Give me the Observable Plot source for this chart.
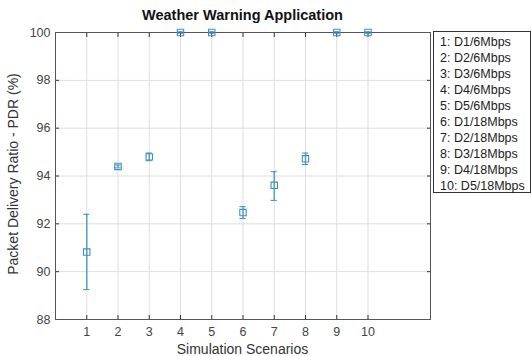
<!DOCTYPE html>
<html>
<head>
<meta charset="utf-8">
<script src="https://cdn.jsdelivr.net/npm/d3@7"></script>
<script src="https://cdn.jsdelivr.net/npm/@observablehq/plot@0.6"></script>
<style>
  html, body { margin: 0; padding: 0; background: #fff; }
  #wrap { position: relative; width: 532px; height: 356px; font-family: "Liberation Sans", Arial, sans-serif; }
  #wrap svg { position: absolute; left: 0; top: 0; }
  .title { position: absolute; left: 55px; width: 375px; top: 7px; text-align: center; font-weight: bold; font-size: 14.5px; color: #111; }
  .xlabel { position: absolute; left: 55px; width: 375px; top: 341px; text-align: center; font-size: 14px; color: #333; }
  .ylabel { position: absolute; left: 13px; top: 174px; transform: translate(-50%, -50%) rotate(-90deg); white-space: nowrap; font-size: 14px; color: #333; }
  .legend { position: absolute; left: 433px; top: 31px; width: 98px; height: 162px; border: 1px solid #333; background: #fff; font-size: 12.5px; color: #222; padding: 2px 0 0 6px; box-sizing: border-box; }
  .legend div { height: 16px; line-height: 16px; white-space: nowrap; }
</style>
</head>
<body>
<div id="wrap"></div>
<script>
const scenarios = [1, 2, 3, 4, 5, 6, 7, 8, 9, 10];
const pdrMean = [90.82, 94.40, 94.80, 100, 100, 92.47, 93.61, 94.72, 100, 100];
const pdrLow  = [89.25, 94.34, 94.64, 99.97, 99.97, 92.22, 92.98, 94.48, 99.97, 99.97];
const pdrHigh = [92.40, 94.46, 94.96, 100.03, 100.03, 92.72, 94.18, 94.96, 100.03, 100.03];
const legendLabels = ["1: D1/6Mbps", "2: D2/6Mbps", "3: D3/6Mbps", "4: D4/6Mbps", "5: D5/6Mbps",
  "6: D1/18Mbps", "7: D2/18Mbps", "8: D3/18Mbps", "9: D4/18Mbps", "10: D5/18Mbps"];
const xTicks = [1, 2, 3, 4, 5, 6, 7, 8, 9, 10];
const yTicks = [88, 90, 92, 94, 96, 98, 100];

const data = scenarios.map((s, i) => ({x: s, y: pdrMean[i], lo: pdrLow[i], hi: pdrHigh[i]}));
const blue = "#3f90c0";
const capHalf = 0.1;

const chart = Plot.plot({
  width: 532,
  height: 356,
  marginLeft: 55,
  marginRight: 102,
  marginTop: 32,
  marginBottom: 37,
  style: {fontFamily: "Liberation Sans, Arial, sans-serif", background: "transparent"},
  x: {domain: [0, 12], label: null},
  y: {domain: [88, 100], label: null},
  marks: [
    Plot.gridX(xTicks, {stroke: "#dedede", strokeOpacity: 1}),
    Plot.gridY(yTicks, {stroke: "#dedede", strokeOpacity: 1}),
    Plot.axisX(xTicks, {anchor: "bottom", tickSize: 0, tickPadding: 8, fontSize: 12.5, fill: "#444", label: null}),
    Plot.axisX(xTicks, {anchor: "bottom", tickSize: -4, tickFormat: () => "", stroke: "#333", label: null}),
    Plot.axisX(xTicks, {anchor: "top", tickSize: -4, tickFormat: () => "", stroke: "#333", label: null}),
    Plot.axisY(yTicks, {anchor: "left", tickSize: 0, tickPadding: 5, fontSize: 12.5, fill: "#444", label: null}),
    Plot.axisY(yTicks, {anchor: "left", tickSize: -4, tickFormat: () => "", stroke: "#333", label: null}),
    Plot.axisY(yTicks, {anchor: "right", tickSize: -4, tickFormat: () => "", stroke: "#333", label: null}),
    Plot.frame({stroke: "#555", strokeWidth: 1}),
    Plot.ruleX(data, {x: "x", y1: "lo", y2: "hi", stroke: blue, strokeWidth: 1.6, strokeOpacity: 0.8}),
    Plot.ruleY(data, {y: "lo", x1: d => d.x - capHalf, x2: d => d.x + capHalf, stroke: blue, strokeWidth: 1}),
    Plot.ruleY(data, {y: "hi", x1: d => d.x - capHalf, x2: d => d.x + capHalf, stroke: blue, strokeWidth: 1}),
    Plot.dot(data, {x: "x", y: "y", symbol: "square", r: 3.6, stroke: blue, fill: "none", strokeWidth: 1.1})
  ]
});

const wrap = document.getElementById("wrap");
wrap.appendChild(chart);

const title = document.createElement("div");
title.className = "title";
title.textContent = "Weather Warning Application";
wrap.appendChild(title);

const xl = document.createElement("div");
xl.className = "xlabel";
xl.textContent = "Simulation Scenarios";
wrap.appendChild(xl);

const yl = document.createElement("div");
yl.className = "ylabel";
yl.textContent = "Packet Delivery Ratio - PDR (%)";
wrap.appendChild(yl);

const lg = document.createElement("div");
lg.className = "legend";
for (const t of legendLabels) {
  const d = document.createElement("div");
  d.textContent = t;
  lg.appendChild(d);
}
wrap.appendChild(lg);
</script>
</body>
</html>
